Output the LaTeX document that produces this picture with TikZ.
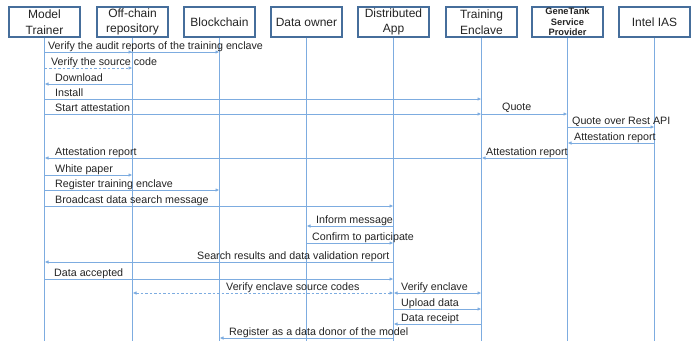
\documentclass[tikz,border=0pt]{standalone}
\usepackage{fontspec}
\setmainfont{Liberation Sans}
\usetikzlibrary{arrows.meta}
\definecolor{ln}{RGB}{125,172,224}
\definecolor{bx}{RGB}{70,110,155}
\definecolor{tx}{RGB}{35,35,35}
\begin{document}
\begin{tikzpicture}[x=1pt,y=-1pt,
  actor/.style={draw=bx,line width=1.1pt,minimum width=71pt,minimum height=30pt,inner sep=0pt,align=center,font=\fontsize{12}{15.5}\selectfont,text=tx},
  life/.style={draw=ln,line width=0.9pt},
  msg/.style={draw=ln,line width=0.9pt,-{Latex[length=4pt,width=3.5pt]}},
  dmsg/.style={msg,dash pattern=on 2.5pt off 2pt},
  lbl/.style={anchor=base west,inner sep=0pt,font=\fontsize{10.7}{12}\selectfont,text=tx}]
\useasboundingbox (0,0) rectangle (697,341);
% actors
\node[actor] (mt) at (44.5,22) {Model\\Trainer};
\node[actor] (oc) at (132.5,22) {Off-chain\\repository};
\node[actor] (bc) at (219.5,22) {Blockchain};
\node[actor] (do) at (306.5,22) {Data owner};
\node[actor] (da) at (393.5,22) {Distributed\\App};
\node[actor] (te) at (481.5,22) {Training\\Enclave};
\node[actor,font=\fontsize{9.3}{10.5}\selectfont\bfseries] (gt) at (567.5,22) {GeneTank\\Service\\Provider};
\node[actor] (ias) at (654.5,22) {Intel IAS};
% lifelines
\foreach \n in {mt,oc,bc,do,da,te,gt,ias}
  \draw[life] (\n.south) -- (\n.south |- 0,341);
% messages
\draw[msg] (mt.south |- 0,52) -- (oc.south |- 0,52);
\draw[msg] (mt.south |- 0,52) -- (bc.south |- 0,52);
\node[lbl] (l1) at (48,49.2) {Verify the audit reports of the training enclave};
\draw[dmsg] (mt.south |- 0,68) -- (oc.south |- 0,68);
\node[lbl] (l2) at (51,65.2) {Verify the source code};
\draw[msg] (oc.south |- 0,84) -- (mt.south |- 0,84);
\node[lbl] (l3) at (55,81.2) {Download};
\draw[msg] (mt.south |- 0,99) -- (te.south |- 0,99);
\node[lbl] (l4) at (55,96.2) {Install};
\draw[msg] (mt.south |- 0,114) -- (te.south |- 0,114);
\node[lbl] (l5) at (55,111.2) {Start attestation};
\draw[msg] (te.south |- 0,114) -- (gt.south |- 0,114);
\node[lbl] (l6) at (502,110.2) {Quote};
\draw[msg] (gt.south |- 0,127) -- (ias.south |- 0,127);
\node[lbl] (l7) at (572,124.2) {Quote over Rest API};
\draw[msg] (ias.south |- 0,143) -- (gt.south |- 0,143);
\node[lbl] (l8) at (574,140.2) {Attestation report};
\draw[msg] (gt.south |- 0,158) -- (te.south |- 0,158);
\node[lbl] (l9) at (486,155.2) {Attestation report};
\draw[msg] (te.south |- 0,158) -- (mt.south |- 0,158);
\node[lbl] (l10) at (55,155.2) {Attestation report};
\draw[msg] (mt.south |- 0,175) -- (oc.south |- 0,175);
\node[lbl] (l11) at (55,172.2) {White paper};
\draw[msg] (mt.south |- 0,190) -- (bc.south |- 0,190);
\node[lbl] (l12) at (55,187.2) {Register training enclave};
\draw[msg] (mt.south |- 0,206) -- (da.south |- 0,206);
\node[lbl] (l13) at (55,203.2) {Broadcast data search message};
\draw[msg] (da.south |- 0,226) -- (do.south |- 0,226);
\node[lbl] (l14) at (316,223.2) {Inform message};
\draw[msg] (do.south |- 0,243) -- (da.south |- 0,243);
\node[lbl] (l15) at (312,240.2) {Confirm to participate};
\draw[msg] (da.south |- 0,262) -- (mt.south |- 0,262);
\node[lbl] (l16) at (197,259.2) {Search results and data validation report};
\draw[msg] (mt.south |- 0,279) -- (da.south |- 0,279);
\node[lbl] (l17) at (54,276.2) {Data accepted};
\draw[dmsg,{Latex[length=4pt,width=3.5pt]}-{Latex[length=4pt,width=3.5pt]}] (oc.south |- 0,293) -- (da.south |- 0,293);
\node[lbl] (l18) at (226,290.2) {Verify enclave source codes};
\draw[msg,{Latex[length=4pt,width=3.5pt]}-{Latex[length=4pt,width=3.5pt]}] (da.south |- 0,293) -- (te.south |- 0,293);
\node[lbl] (l19) at (401,290.2) {Verify enclave};
\draw[msg] (da.south |- 0,309) -- (te.south |- 0,309);
\node[lbl] (l20) at (401,306.2) {Upload data};
\draw[msg] (te.south |- 0,324) -- (da.south |- 0,324);
\node[lbl] (l21) at (401,321.2) {Data receipt};
\draw[msg] (da.south |- 0,338) -- (bc.south |- 0,338);
\node[lbl] (l22) at (229,335.2) {Register as a data donor of the model};
\end{tikzpicture}
\end{document}
